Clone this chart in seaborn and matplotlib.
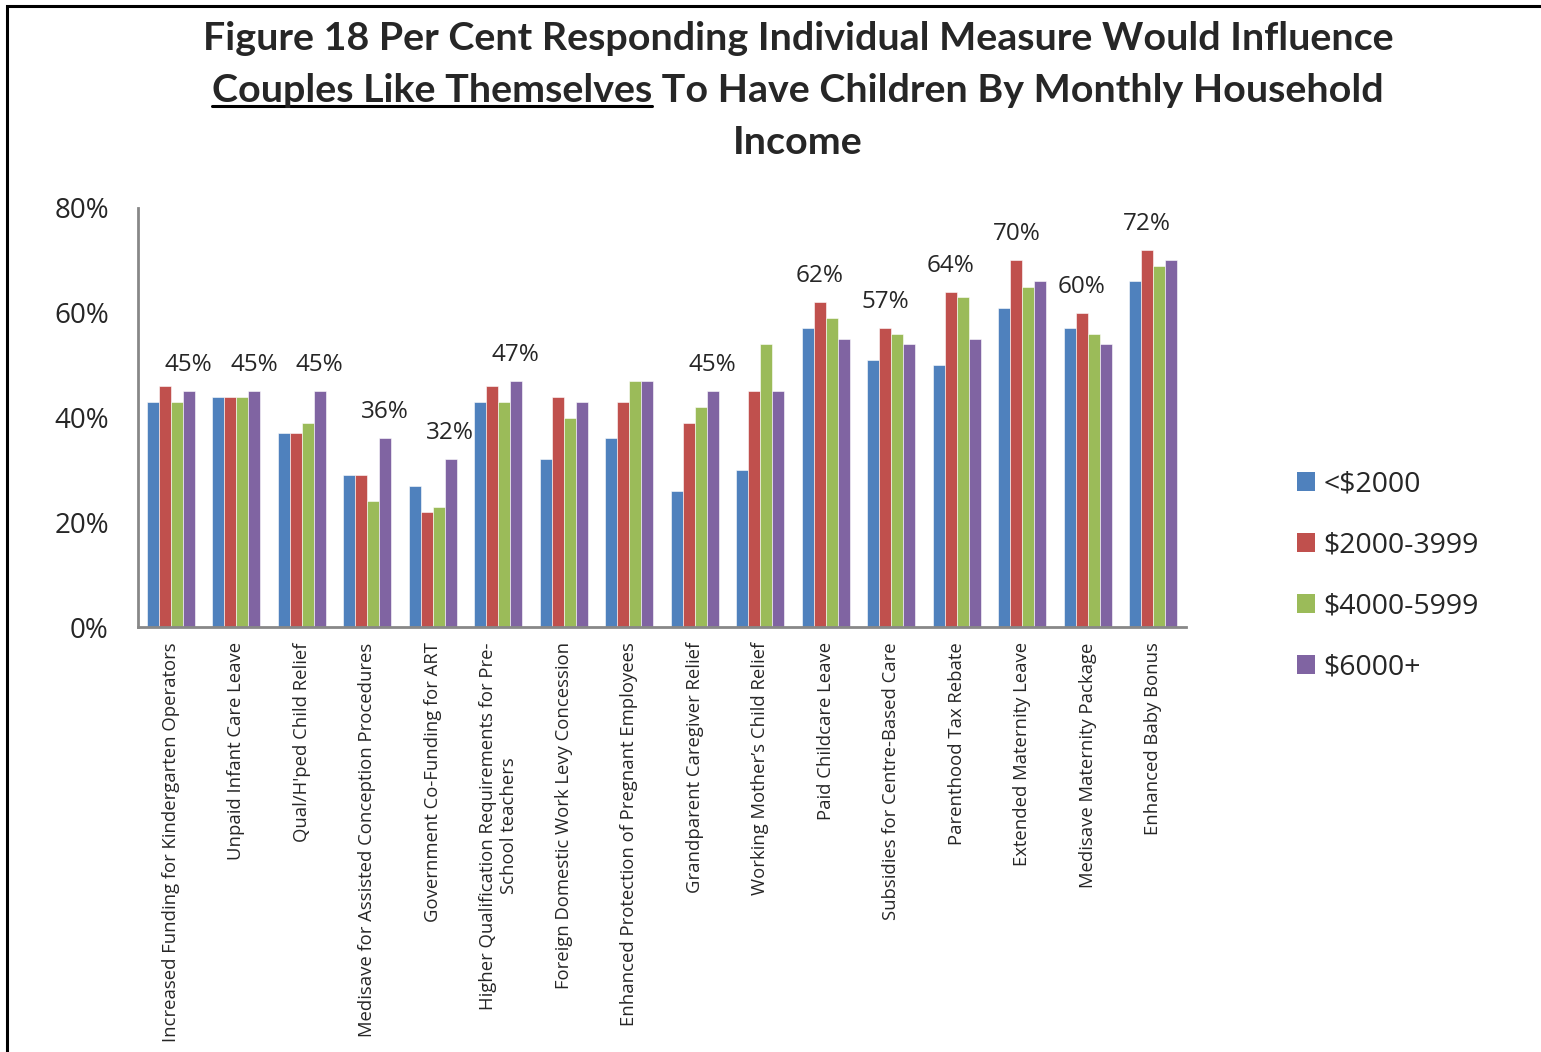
import matplotlib
matplotlib.use("Agg")
import matplotlib.pyplot as plt
import seaborn as sns
import pandas as pd
from matplotlib.patches import Patch, Rectangle
from matplotlib.lines import Line2D

measures = [
    "Increased Funding for Kindergarten Operators",
    "Unpaid Infant Care Leave",
    "Qual/H'ped Child Relief",
    "Medisave for Assisted Conception Procedures",
    "Government Co-Funding for ART",
    "Higher Qualification Requirements for Pre-\nSchool teachers",
    "Foreign Domestic Work Levy Concession",
    "Enhanced Protection of Pregnant Employees",
    "Grandparent Caregiver Relief",
    "Working Mother\u2019s Child Relief",
    "Paid Childcare Leave",
    "Subsidies for Centre-Based Care",
    "Parenthood Tax Rebate",
    "Extended Maternity Leave",
    "Medisave Maternity Package",
    "Enhanced Baby Bonus",
]
income_groups = ["<$2000", "$2000-3999", "$4000-5999", "$6000+"]
lt_2000 = [43, 44, 37, 29, 27, 43, 32, 36, 26, 30, 57, 51, 50, 61, 57, 66]
inc_2000_3999 = [46, 44, 37, 29, 22, 46, 44, 43, 39, 45, 62, 57, 64, 70, 60, 72]
inc_4000_5999 = [43, 44, 39, 24, 23, 43, 40, 47, 42, 54, 59, 56, 63, 65, 56, 69]
inc_6000_plus = [45, 45, 45, 36, 32, 47, 43, 47, 45, 45, 55, 54, 55, 66, 54, 70]
label_values = [45, 45, 45, 36, 32, 47, None, None, 45, None, 62, 57, 64, 70, 60, 72]
y_ticks = [0, 20, 40, 60, 80]
y_tick_labels = ["0%", "20%", "40%", "60%", "80%"]

colors = ["#4F81BD", "#C0504D", "#9BBB59", "#8064A2"]

rows = []
for series, name in zip([lt_2000, inc_2000_3999, inc_4000_5999, inc_6000_plus], income_groups):
    for m, v in zip(measures, series):
        rows.append({"measure": m, "income": name, "value": v})
df = pd.DataFrame(rows)

sns.set_theme(style="white")
plt.rcParams["font.family"] = ["Open Sans", "DejaVu Sans"]

W, H = 1541, 1052
fig = plt.figure(figsize=(W / 100, H / 100), dpi=100)
ax = fig.add_axes([138 / W, 1 - 627 / H, (1186 - 138) / W, (627 - 208) / H])

sns.barplot(data=df, x="measure", y="value", hue="income", order=measures,
            hue_order=income_groups, palette=colors, saturation=1, width=0.73,
            gap=0, edgecolor="white", linewidth=0.4, legend=False, ax=ax,
            errorbar=None)

ax.set_xlim(-0.5, len(measures) - 0.5)
ax.set_ylim(0, 80)
ax.set_yticks(y_ticks)
ax.set_yticklabels(y_tick_labels, fontsize=20)
ax.tick_params(axis="y", length=0, pad=21)
ax.tick_params(axis="x", length=0, pad=11)
ax.set_xticks(range(len(measures)))
ax.set_xticklabels(measures, rotation=90, fontsize=13.3, ha="center", va="top",
                   multialignment="center")
ax.set_xlabel("")
ax.set_ylabel("")
for s in ["top", "right"]:
    ax.spines[s].set_visible(False)
for s in ["left", "bottom"]:
    ax.spines[s].set_color("#888888")
    ax.spines[s].set_linewidth(2)

# data labels (group maximum)
for i, lv in enumerate(label_values):
    if lv is None:
        continue
    off = 0.27 if i < 10 else -0.09
    ax.text(i + off, lv + 5, f"{lv}%", ha="center", va="center", fontsize=17.5)

# legend
handles = [Patch(facecolor=c, edgecolor="none") for c in colors]
fig.legend(handles, income_groups, loc="center left",
           bbox_to_anchor=(1271 / W, 1 - 576 / H), frameon=False, fontsize=20.5,
           handlelength=0.65, handleheight=0.65, handletextpad=0.3,
           labelspacing=1.17)

# title
tfont = dict(fontsize=28.4, fontweight="bold", family=["Lato", "DejaVu Sans"])
cx = 798 / W
fig.text(cx, 1 - 38 / H, "Figure 18 Per Cent Responding Individual Measure Would Influence",
         ha="center", va="center", **tfont)
fig.text(cx, 1 - 142 / H, "Income", ha="center", va="center", **tfont)

fig.canvas.draw()
r = fig.canvas.get_renderer()
partA = "Couples Like Themselves"
partB = " To Have Children By Monthly Household"
ta = fig.text(0, 1 - 90 / H, partA, ha="left", va="center", **tfont)
tb = fig.text(0, 1 - 90 / H, partB, ha="left", va="center", **tfont)
wa = ta.get_window_extent(r).width
tmp = fig.text(0, 0, partA + partB, **tfont)
wt = tmp.get_window_extent(r).width
tmp.remove()
x0 = cx * W - wt / 2
ta.set_x(x0 / W)
tb.set_x((x0 + wt - tb.get_window_extent(r).width) / W)
fig.add_artist(Line2D([x0 / W, (x0 + wa) / W], [1 - 106 / H, 1 - 106 / H],
                      color="black", linewidth=2.2, transform=fig.transFigure))

# outer border
fig.add_artist(Rectangle((7 / W, -0.1), 1.2, 1 - 6 / H + 0.1, fill=False,
                         edgecolor="black", linewidth=2.2, transform=fig.transFigure))

fig.savefig("out.png", dpi=100)
